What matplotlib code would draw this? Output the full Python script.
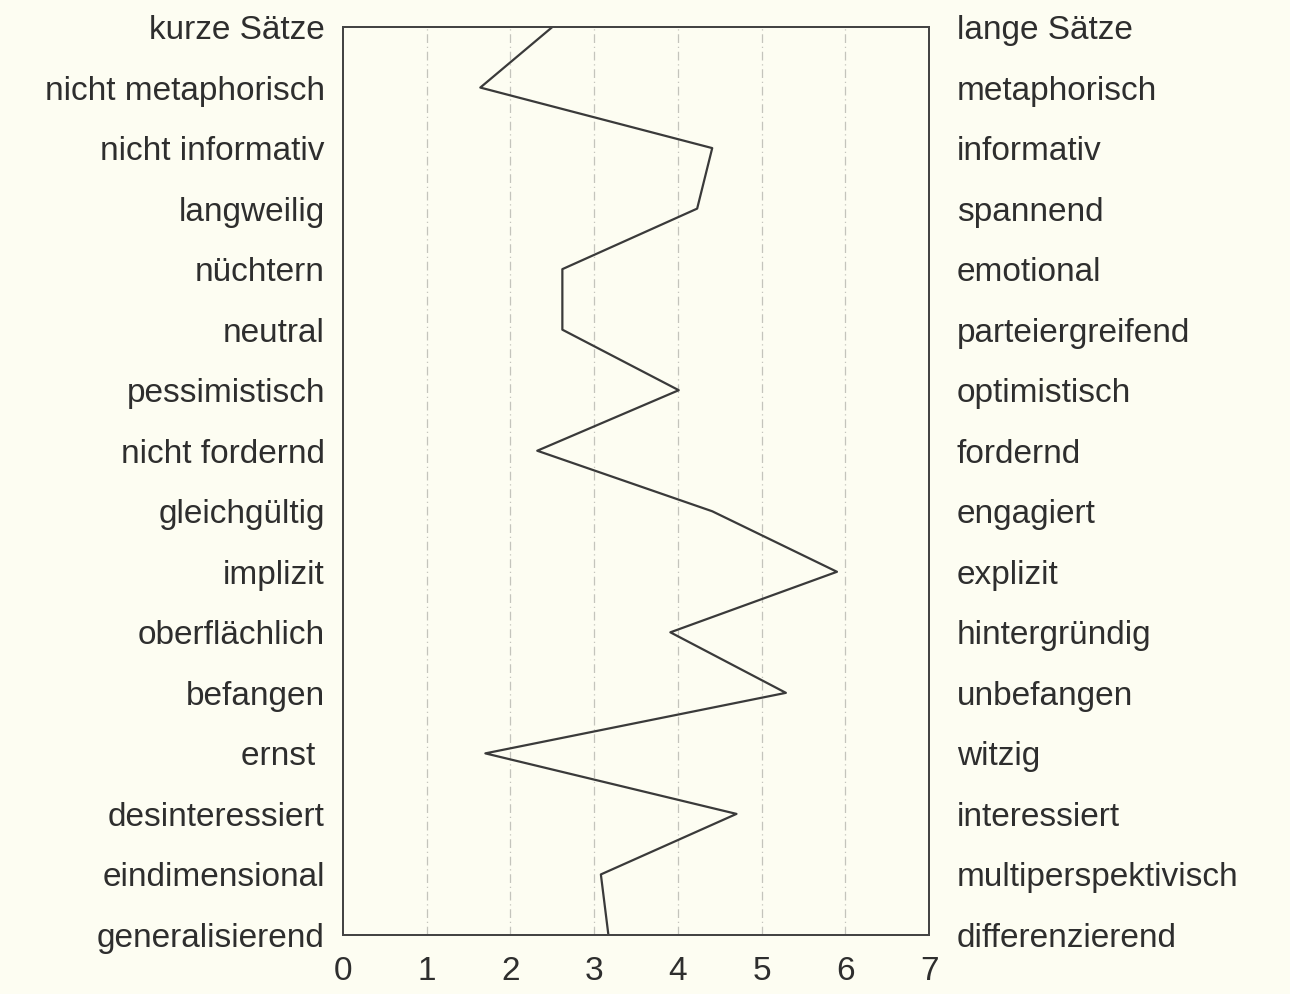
import matplotlib.pyplot as plt
import numpy as np

# left pole / right pole of each scale, top to bottom
left_labels = ["kurze Sätze", "nicht metaphorisch", "nicht informativ", "langweilig",
               "nüchtern", "neutral", "pessimistisch", "nicht fordernd", "gleichgültig",
               "implizit", "oberflächlich", "befangen", "ernst ", "desinteressiert",
               "eindimensional", "generalisierend"]
right_labels = ["lange Sätze", "metaphorisch", "informativ", "spannend", "emotional",
                "parteiergreifend", "optimistisch", "fordernd", "engagiert", "explizit",
                "hintergründig", "unbefangen", "witzig", "interessiert",
                "multiperspektivisch", "differenzierend"]
values = [2.50, 1.64, 4.41, 4.23, 2.62, 2.62, 4.01, 2.32, 4.41, 5.90,
          3.91, 5.29, 1.70, 4.70, 3.08, 3.17]
x_ticks = [0, 1, 2, 3, 4, 5, 6, 7]

bg = "#fdfdf2"
txt = "#2e2e2e"
plt.rcParams["font.family"] = ["Liberation Sans", "DejaVu Sans"]

fig = plt.figure(figsize=(12.9, 9.94), dpi=100, facecolor=bg)
ax = fig.add_axes([0.2659, 0.0594, 0.4543, 0.9134], facecolor=bg)

rows = np.arange(len(values))
ax.plot(values, rows, color="#3a3a3a", lw=1.6)

ax.set_xlim(0, 7)
ax.set_ylim(len(values) - 1, 0)

# dashed vertical guides
for v in x_ticks[1:-1]:
    ax.axvline(v, color="#c4c4bc", lw=0.9, ls=(0, (7, 3, 1, 3)), zorder=0)

ax.set_xticks(x_ticks)
ax.set_xticklabels([str(t) for t in x_ticks], fontsize=24, color=txt)
ax.set_yticks(rows)
ax.set_yticklabels(left_labels, fontsize=24, color=txt)
ax.tick_params(axis="x", length=0, pad=15)
ax.tick_params(axis="y", length=0, pad=13)

ax2 = ax.twinx()
ax2.set_ylim(ax.get_ylim())
ax2.set_yticks(rows)
ax2.set_yticklabels(right_labels, fontsize=24, color=txt)
ax2.tick_params(axis="y", length=0, pad=20)

for a in (ax, ax2):
    for s in a.spines.values():
        s.set_color("#444444")
        s.set_linewidth(1.4)

plt.savefig("out.png", dpi=100, facecolor=bg)
